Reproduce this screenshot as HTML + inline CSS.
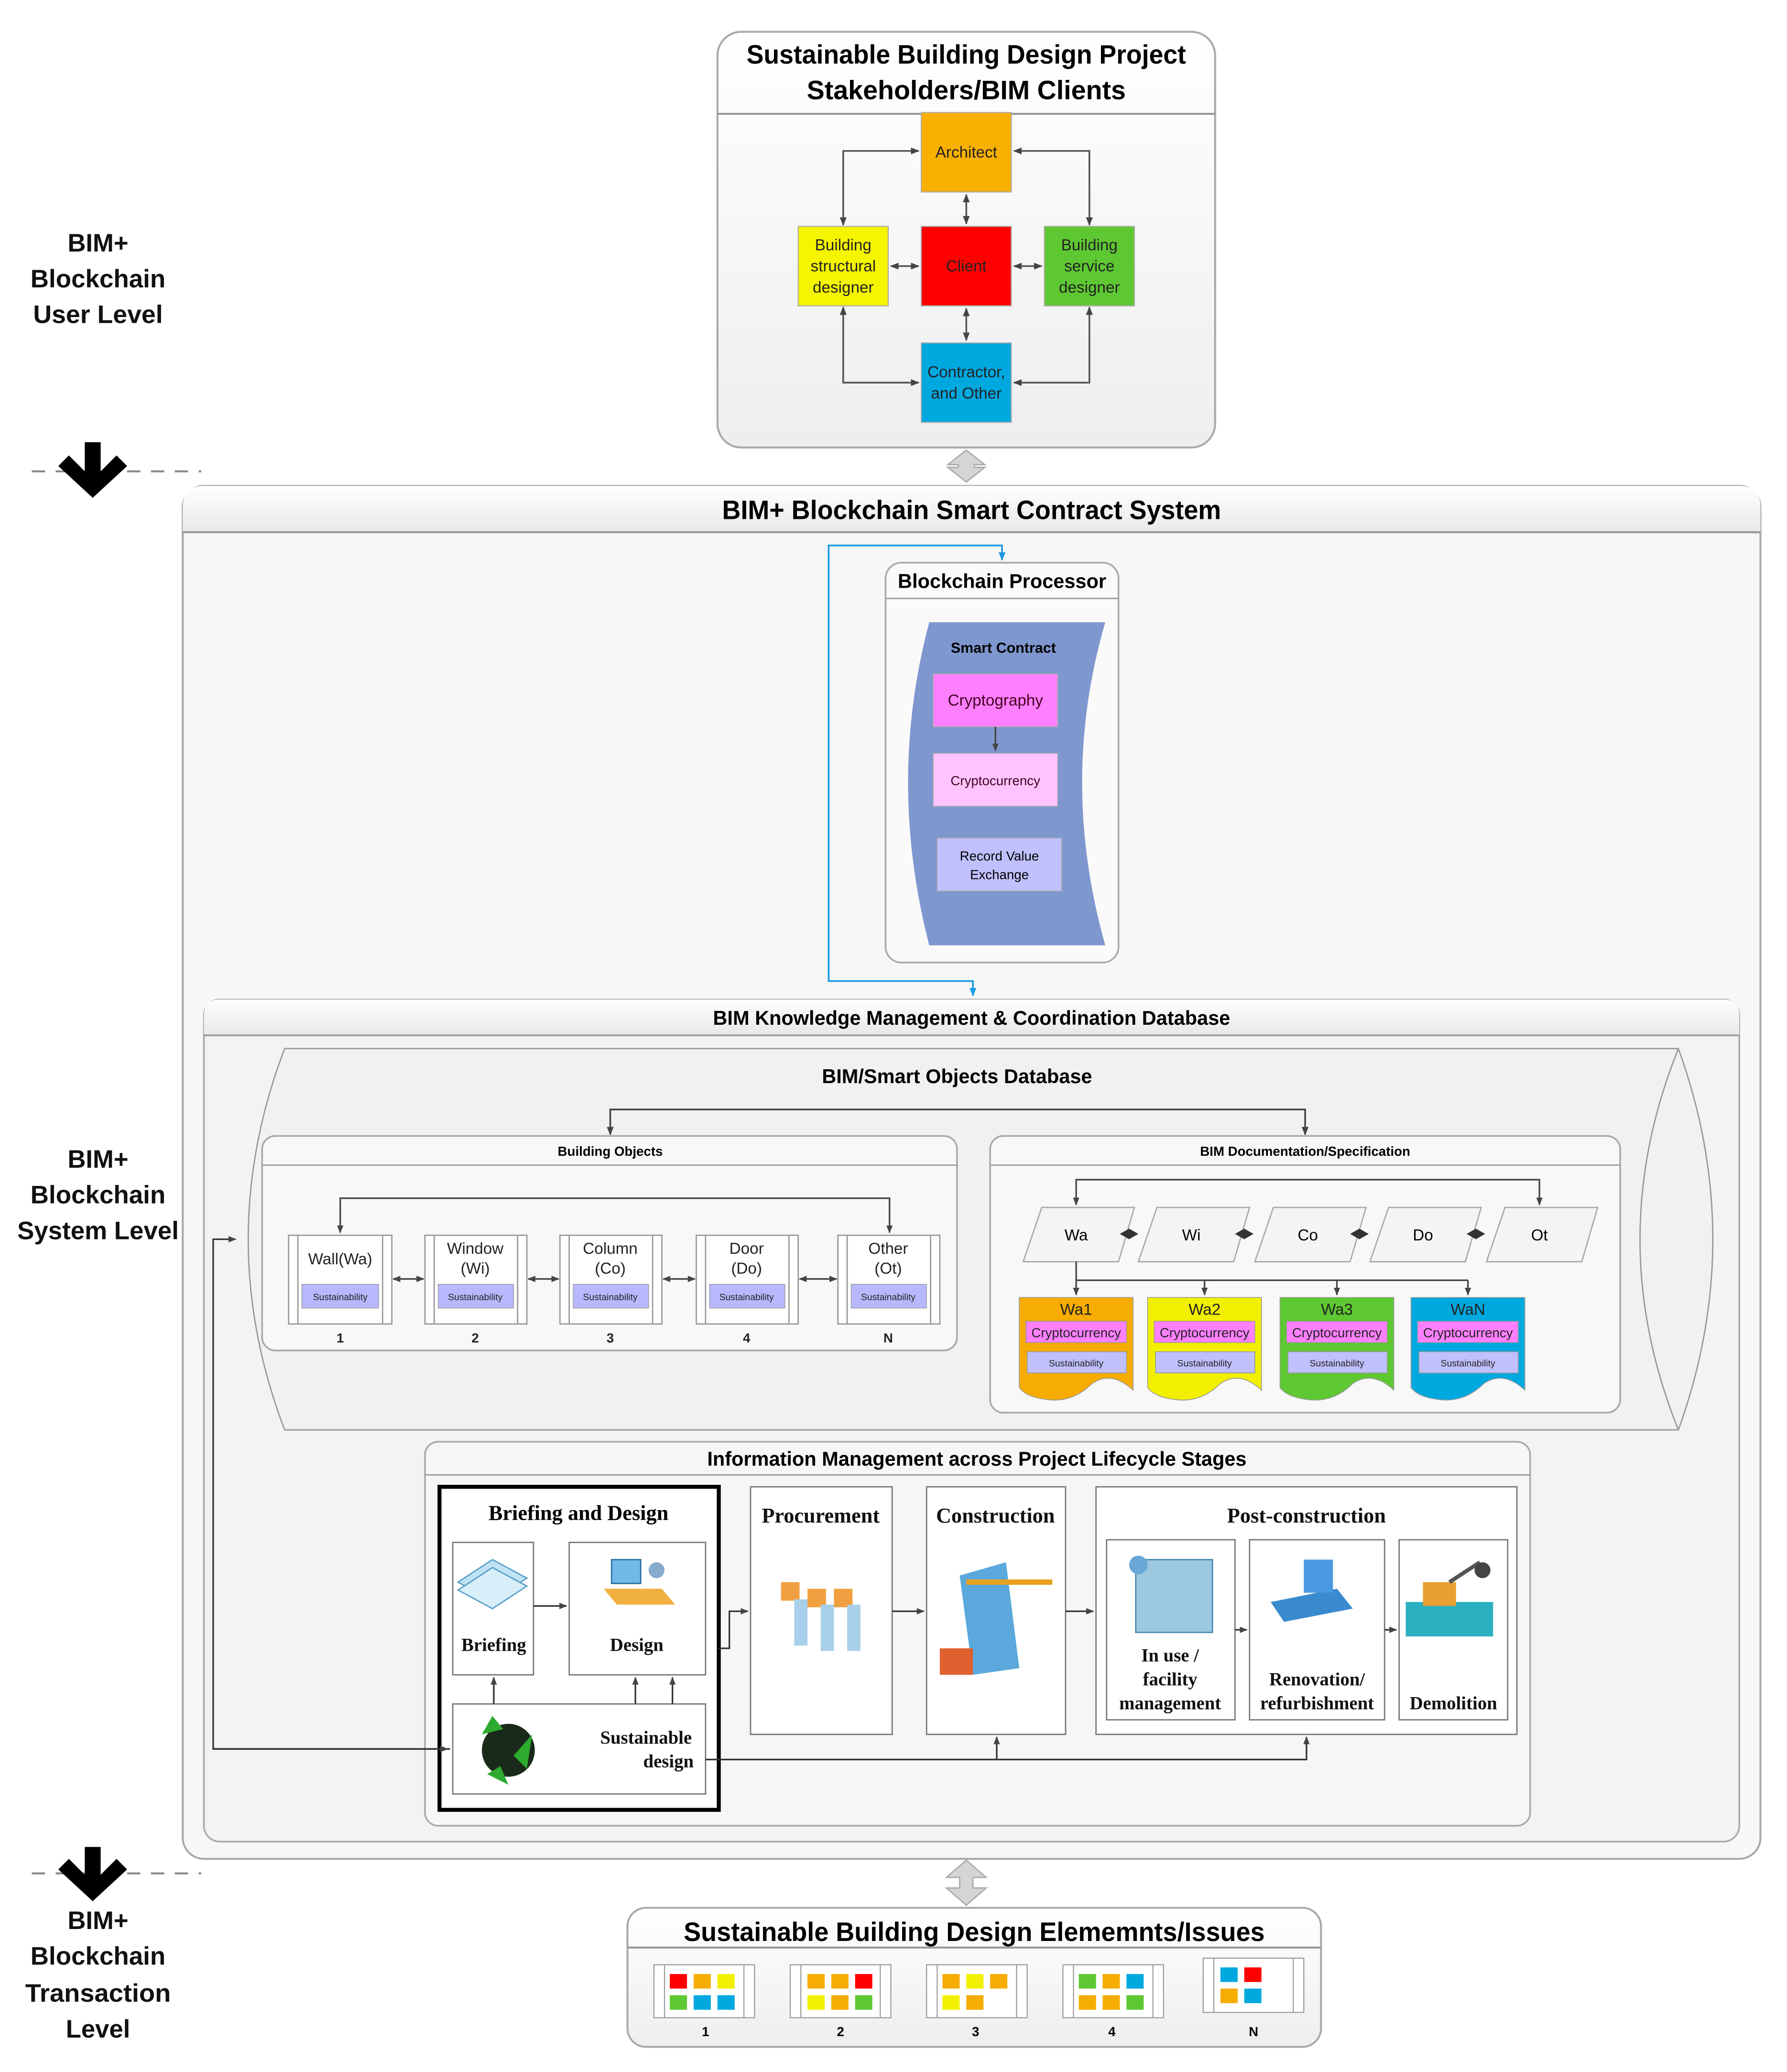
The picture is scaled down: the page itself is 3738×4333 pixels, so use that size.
<!DOCTYPE html>
<html><head><meta charset="utf-8"><style>
html,body{margin:0;padding:0;background:#fff}
svg{display:block}
text{font-family:"Liberation Sans",sans-serif}
.s{font-family:"Liberation Serif",serif;font-weight:bold}
</style></head><body>
<svg width="3738" height="4333" viewBox="0 0 1350 1565" xmlns="http://www.w3.org/2000/svg">
<defs>
<marker id="a" viewBox="0 0 10 10" refX="9" refY="5" markerWidth="5" markerHeight="5" orient="auto-start-reverse"><path d="M0,1 L10,5 L0,9z" fill="#444"/></marker>
<marker id="b" viewBox="0 0 10 10" refX="9" refY="5" markerWidth="5" markerHeight="5" orient="auto-start-reverse"><path d="M0,1 L10,5 L0,9z" fill="#1a9be0"/></marker>
<linearGradient id="g" x1="0" y1="0" x2="0" y2="1"><stop offset="0" stop-color="#fff"/><stop offset="1" stop-color="#eeeeee"/></linearGradient>
<linearGradient id="hd" x1="0" y1="0" x2="0" y2="1"><stop offset="0" stop-color="#ffffff"/><stop offset="1" stop-color="#e8e8e8"/></linearGradient>
</defs>

<!-- Left labels -->
<g font-size="19" font-weight="bold" text-anchor="middle" fill="#111">
<text x="74" y="190">BIM+</text><text x="74" y="217" textLength="102" lengthAdjust="spacingAndGlyphs">Blockchain</text><text x="74" y="244" textLength="98" lengthAdjust="spacingAndGlyphs">User Level</text>
<text x="74" y="882">BIM+</text><text x="74" y="909" textLength="102" lengthAdjust="spacingAndGlyphs">Blockchain</text><text x="74" y="936" textLength="122" lengthAdjust="spacingAndGlyphs">System Level</text>
<text x="74" y="1457">BIM+</text><text x="74" y="1484" textLength="102" lengthAdjust="spacingAndGlyphs">Blockchain</text><text x="74" y="1512" textLength="110" lengthAdjust="spacingAndGlyphs">Transaction</text><text x="74" y="1539">Level</text>
</g>
<g stroke="#888" stroke-width="1.5" stroke-dasharray="10,8"><line x1="24" y1="356" x2="152" y2="356"/><line x1="24" y1="1415" x2="152" y2="1415"/></g>
<path d="M64,334 H76 V356 L88,344 L96,352 L70,376 L44,352 L52,344 L64,356z" fill="#000"/>
<path d="M64,1395 H76 V1416 L88,1404 L96,1412 L70,1436 L44,1412 L52,1404 L64,1416z" fill="#000"/>

<!-- Top box -->
<rect x="542" y="24" width="376" height="314" rx="18" fill="url(#g)" stroke="#aaa" stroke-width="1.5"/>
<line x1="542" y1="86" x2="918" y2="86" stroke="#999" stroke-width="1.5"/>
<text x="730" y="48" font-size="20" font-weight="bold" text-anchor="middle" textLength="332" lengthAdjust="spacingAndGlyphs">Sustainable Building Design Project</text>
<text x="730" y="75" font-size="20" font-weight="bold" text-anchor="middle" textLength="241" lengthAdjust="spacingAndGlyphs">Stakeholders/BIM Clients</text>
<g stroke="#aaa" stroke-width="0.8">
<rect x="696" y="85" width="68" height="60" fill="#f9b000"/>
<rect x="696" y="171" width="68" height="60" fill="#ff0000"/>
<rect x="603" y="171" width="68" height="60" fill="#f5f500"/>
<rect x="789" y="171" width="68" height="60" fill="#5ec832"/>
<rect x="696" y="259" width="68" height="60" fill="#00a8e0"/>
</g>
<g font-size="12" text-anchor="middle" fill="#222">
<text x="730" y="119">Architect</text>
<text x="730" y="205">Client</text>
<text x="637" y="189">Building</text><text x="637" y="205">structural</text><text x="637" y="221">designer</text>
<text x="823" y="189">Building</text><text x="823" y="205">service</text><text x="823" y="221">designer</text>
<text x="730" y="285">Contractor,</text><text x="730" y="301">and Other</text>
</g>
<g fill="none" stroke="#555" stroke-width="1.3" marker-start="url(#a)" marker-end="url(#a)">
<path d="M694,114 H637 V170"/>
<path d="M766,114 H823 V170"/>
<path d="M637,232 V289 H694"/>
<path d="M823,232 V289 H766"/>
<path d="M730,147 V169"/><path d="M730,233 V257"/>
<path d="M673,201 H694"/><path d="M766,201 H787"/>
</g>
<!-- double arrows -->
<g fill="#d5d5d5" stroke="#aaa">
<path d="M730,340 L744,351 H736 V353 H744 L730,364 L716,353 H724 V351 H716z"/>
<path d="M730,1405 L745,1418 H735 V1426 H745 L730,1439 L715,1426 H725 V1418 H715z"/>
</g>

<!-- System box -->
<rect x="138" y="367" width="1192" height="1037" rx="16" fill="#f7f7f7" stroke="#aaa" stroke-width="1.5"/>
<path d="M138,402 V383 Q138,367 154,367 H1314 Q1330,367 1330,383 V402z" fill="url(#hd)"/>
<line x1="138" y1="402" x2="1330" y2="402" stroke="#999" stroke-width="1.5"/>
<text x="734" y="392" font-size="20" font-weight="bold" text-anchor="middle" textLength="377" lengthAdjust="spacingAndGlyphs">BIM+ Blockchain Smart Contract System</text>

<!-- Blockchain processor -->
<rect x="669" y="425" width="176" height="302" rx="12" fill="#fafafa" stroke="#aaa" stroke-width="1.3"/>
<line x1="669" y1="452" x2="845" y2="452" stroke="#999"/>
<text x="757" y="444" font-size="15" font-weight="bold" text-anchor="middle">Blockchain Processor</text>
<path d="M702,470 H835 Q800,590 835,714 H702 Q670,590 702,470z" fill="#7f97cf"/>
<text x="758" y="493" font-size="11" font-weight="bold" text-anchor="middle">Smart Contract</text>
<rect x="705" y="509" width="94" height="40" fill="#ff80ff" stroke="#aaa" stroke-width="0.6"/>
<text x="752" y="533" font-size="12" text-anchor="middle" fill="#402">Cryptography</text>
<rect x="705" y="569" width="94" height="40" fill="#ffc4ff" stroke="#aaa" stroke-width="0.6"/>
<text x="752" y="593" font-size="10" text-anchor="middle" fill="#402">Cryptocurrency</text>
<rect x="708" y="633" width="94" height="40" fill="#c0c0ff" stroke="#aaa" stroke-width="0.6"/>
<text x="755" y="650" font-size="10" text-anchor="middle">Record Value</text><text x="755" y="664" font-size="10" text-anchor="middle">Exchange</text>
<line x1="752" y1="549" x2="752" y2="567" stroke="#444" stroke-width="1.2" marker-end="url(#a)"/>
<path d="M757,423 V412 H626 V741 H735 V752" fill="none" stroke="#1a9be0" stroke-width="1.3" marker-start="url(#b)" marker-end="url(#b)"/>

<!-- BIM KM -->
<rect x="154" y="755" width="1160" height="636" rx="12" fill="#f3f3f3" stroke="#aaa" stroke-width="1.3"/>
<path d="M154,782 V767 Q154,755 166,755 H1302 Q1314,755 1314,767 V782z" fill="url(#hd)"/>
<line x1="154" y1="782" x2="1314" y2="782" stroke="#999" stroke-width="1.3"/>
<text x="734" y="774" font-size="15" font-weight="bold" text-anchor="middle">BIM Knowledge Management &amp; Coordination Database</text>

<!-- cylinder -->
<path d="M215,792 H1268 Q1320,936 1268,1080 H215 Q160,936 215,792z" fill="#f1f1f1" stroke="#999" stroke-width="1"/>
<path d="M1268,792 Q1210,936 1268,1080" fill="none" stroke="#999"/>
<text x="723" y="818" font-size="15" font-weight="bold" text-anchor="middle">BIM/Smart Objects Database</text>
<path d="M461,857 V838 H986 V857" fill="none" stroke="#444" stroke-width="1.3" marker-start="url(#a)" marker-end="url(#a)"/>

<!-- Building objects -->
<rect x="198" y="858" width="525" height="162" rx="10" fill="#f8f8f8" stroke="#aaa" stroke-width="1.3"/>
<line x1="198" y1="880" x2="723" y2="880" stroke="#999"/>
<text x="461" y="873" font-size="10" font-weight="bold" text-anchor="middle">Building Objects</text>
<path d="M257,931 V905 H672 V931" fill="none" stroke="#444" stroke-width="1.2" marker-start="url(#a)" marker-end="url(#a)"/>
<g font-size="12" text-anchor="middle" fill="#222">
<g transform="translate(218,933)"><rect width="78" height="67" fill="#fff" stroke="#999"/><line x1="7" y1="0" x2="7" y2="67" stroke="#999"/><line x1="71" y1="0" x2="71" y2="67" stroke="#999"/><rect x="10" y="37" width="58" height="18" fill="#b8b8ff" stroke="#999" stroke-width="0.5"/><text x="39" y="22">Wall(Wa)</text><text x="39" y="49" font-size="7">Sustainability</text><text x="39" y="81" font-size="10" font-weight="bold">1</text></g>
<g transform="translate(321,933)"><rect width="77" height="67" fill="#fff" stroke="#999"/><line x1="7" y1="0" x2="7" y2="67" stroke="#999"/><line x1="70" y1="0" x2="70" y2="67" stroke="#999"/><rect x="10" y="37" width="57" height="18" fill="#b8b8ff" stroke="#999" stroke-width="0.5"/><text x="38" y="14">Window</text><text x="38" y="29">(Wi)</text><text x="38" y="49" font-size="7">Sustainability</text><text x="38" y="81" font-size="10" font-weight="bold">2</text></g>
<g transform="translate(423,933)"><rect width="77" height="67" fill="#fff" stroke="#999"/><line x1="7" y1="0" x2="7" y2="67" stroke="#999"/><line x1="70" y1="0" x2="70" y2="67" stroke="#999"/><rect x="10" y="37" width="57" height="18" fill="#b8b8ff" stroke="#999" stroke-width="0.5"/><text x="38" y="14">Column</text><text x="38" y="29">(Co)</text><text x="38" y="49" font-size="7">Sustainability</text><text x="38" y="81" font-size="10" font-weight="bold">3</text></g>
<g transform="translate(526,933)"><rect width="77" height="67" fill="#fff" stroke="#999"/><line x1="7" y1="0" x2="7" y2="67" stroke="#999"/><line x1="70" y1="0" x2="70" y2="67" stroke="#999"/><rect x="10" y="37" width="57" height="18" fill="#b8b8ff" stroke="#999" stroke-width="0.5"/><text x="38" y="14">Door</text><text x="38" y="29">(Do)</text><text x="38" y="49" font-size="7">Sustainability</text><text x="38" y="81" font-size="10" font-weight="bold">4</text></g>
<g transform="translate(633,933)"><rect width="77" height="67" fill="#fff" stroke="#999"/><line x1="7" y1="0" x2="7" y2="67" stroke="#999"/><line x1="70" y1="0" x2="70" y2="67" stroke="#999"/><rect x="10" y="37" width="57" height="18" fill="#b8b8ff" stroke="#999" stroke-width="0.5"/><text x="38" y="14">Other</text><text x="38" y="29">(Ot)</text><text x="38" y="49" font-size="7">Sustainability</text><text x="38" y="81" font-size="10" font-weight="bold">N</text></g>
</g>
<g fill="none" stroke="#444" stroke-width="1.2" marker-start="url(#a)" marker-end="url(#a)">
<path d="M297,966 H320"/><path d="M399,966 H422"/><path d="M501,966 H525"/><path d="M604,966 H632"/>
</g>

<!-- BIM documentation -->
<rect x="748" y="858" width="476" height="209" rx="10" fill="#f8f8f8" stroke="#aaa" stroke-width="1.3"/>
<line x1="748" y1="880" x2="1224" y2="880" stroke="#999"/>
<text x="986" y="873" font-size="10" font-weight="bold" text-anchor="middle">BIM Documentation/Specification</text>
<path d="M813,910 V891 H1163 V910" fill="none" stroke="#444" stroke-width="1.2" marker-start="url(#a)" marker-end="url(#a)"/>
<g fill="#f4f4f4" stroke="#aaa" stroke-width="1">
<path d="M787,912 H857 L845,953 H773z"/><path d="M874,912 H944 L932,953 H860z"/><path d="M962,912 H1032 L1020,953 H948z"/><path d="M1049,912 H1119 L1107,953 H1035z"/><path d="M1137,912 H1207 L1195,953 H1123z"/>
</g>
<g font-size="12" text-anchor="middle"><text x="813" y="937">Wa</text><text x="900" y="937">Wi</text><text x="988" y="937">Co</text><text x="1075" y="937">Do</text><text x="1163" y="937">Ot</text></g>
<g fill="#333"><path d="M846,932 L853,928 L860,932 L853,936z"/><path d="M933,932 L940,928 L947,932 L940,936z"/><path d="M1020,932 L1027,928 L1034,932 L1027,936z"/><path d="M1108,932 L1115,928 L1122,932 L1115,936z"/></g>
<g fill="none" stroke="#444" stroke-width="1.2">
<path d="M813,953 V978" marker-end="url(#a)"/><path d="M813,967 H1109"/><path d="M910,967 V978" marker-end="url(#a)"/><path d="M1010,967 V978" marker-end="url(#a)"/><path d="M1109,967 V978" marker-end="url(#a)"/>
</g>
<g stroke="#999" stroke-width="0.6">
<path d="M770,980 H856 V1050 Q840,1035 825,1045 Q810,1060 790,1057 Q775,1055 770,1048z" fill="#f6ac00"/>
<path d="M867,980 H953 V1050 Q937,1035 922,1045 Q907,1060 887,1057 Q872,1055 867,1048z" fill="#f2f000"/>
<path d="M967,980 H1053 V1050 Q1037,1035 1022,1045 Q1007,1060 987,1057 Q972,1055 967,1048z" fill="#5ec832"/>
<path d="M1066,980 H1152 V1050 Q1136,1035 1121,1045 Q1106,1060 1086,1057 Q1071,1055 1066,1048z" fill="#00a8e0"/>
<g fill="#ff80ff"><rect x="775" y="998" width="76" height="16"/><rect x="872" y="998" width="76" height="16"/><rect x="972" y="998" width="76" height="16"/><rect x="1071" y="998" width="76" height="16"/></g>
<g fill="#c0c0ff"><rect x="776" y="1021" width="75" height="16"/><rect x="873" y="1021" width="75" height="16"/><rect x="973" y="1021" width="75" height="16"/><rect x="1072" y="1021" width="75" height="16"/></g>
</g>
<g text-anchor="middle" fill="#222">
<g font-size="12"><text x="813" y="993">Wa1</text><text x="910" y="993">Wa2</text><text x="1010" y="993">Wa3</text><text x="1109" y="993">WaN</text></g>
<g font-size="10"><text x="813" y="1010">Cryptocurrency</text><text x="910" y="1010">Cryptocurrency</text><text x="1010" y="1010">Cryptocurrency</text><text x="1109" y="1010">Cryptocurrency</text></g>
<g font-size="7"><text x="813" y="1032">Sustainability</text><text x="910" y="1032">Sustainability</text><text x="1010" y="1032">Sustainability</text><text x="1109" y="1032">Sustainability</text></g>
</g>

<!-- Info management -->
<rect x="321" y="1089" width="835" height="290" rx="10" fill="#f6f6f6" stroke="#aaa" stroke-width="1.3"/>
<line x1="321" y1="1114" x2="1156" y2="1114" stroke="#999"/>
<text x="738" y="1107" font-size="15" font-weight="bold" text-anchor="middle">Information Management across Project Lifecycle Stages</text>
<rect x="332" y="1123" width="211" height="244" fill="#fff" stroke="#000" stroke-width="3"/>
<text class="s" x="437" y="1148" font-size="16" text-anchor="middle">Briefing and Design</text>
<g fill="#fff" stroke="#777" stroke-width="1">
<rect x="342" y="1165" width="61" height="100"/><rect x="430" y="1165" width="103" height="100"/><rect x="342" y="1287" width="191" height="68"/>
<rect x="567" y="1123" width="107" height="187"/><rect x="700" y="1123" width="105" height="187"/><rect x="828" y="1123" width="318" height="187"/>
<rect x="836" y="1163" width="97" height="136"/><rect x="944" y="1163" width="102" height="136"/><rect x="1057" y="1163" width="82" height="136"/>
</g>
<g class="s" font-size="14" text-anchor="middle" fill="#111">
<text class="s" x="373" y="1247">Briefing</text><text class="s" x="481" y="1247">Design</text>
<text class="s" x="488" y="1317">Sustainable</text><text class="s" x="505" y="1335">design</text>
<text class="s" x="620" y="1150" font-size="16">Procurement</text><text class="s" x="752" y="1150" font-size="16">Construction</text><text class="s" x="987" y="1150" font-size="16">Post-construction</text>
<text class="s" x="884" y="1255">In use /</text><text class="s" x="884" y="1273">facility</text><text class="s" x="884" y="1291">management</text>
<text class="s" x="995" y="1273">Renovation/</text><text class="s" x="995" y="1291">refurbishment</text>
<text class="s" x="1098" y="1291">Demolition</text>
</g>
<!-- icons -->
<g>
<path d="M346,1195 L372,1178 L398,1192 L372,1209z" fill="#bfe3f5" stroke="#5aa0c8"/><path d="M346,1201 L372,1184 L398,1198 L372,1215z" fill="#d8eef9" stroke="#5aa0c8"/>
<rect x="462" y="1178" width="22" height="18" fill="#6fb8e8" stroke="#2a6fa0"/><path d="M456,1200 L500,1200 L510,1212 L466,1212z" fill="#f0b040"/><circle cx="496" cy="1186" r="6" fill="#8ac"/>
<circle cx="384" cy="1322" r="20" fill="#1a2a1a"/><path d="M364,1310 L372,1296 L380,1306z M402,1310 L398,1336 L388,1326z M368,1340 L384,1348 L378,1334z" fill="#2eaa2e"/>
<g fill="#f0a040"><rect x="590" y="1195" width="14" height="14"/><rect x="610" y="1200" width="14" height="14"/><rect x="630" y="1200" width="14" height="14"/></g>
<g fill="#a8d0ea"><rect x="600" y="1208" width="10" height="35"/><rect x="620" y="1212" width="10" height="35"/><rect x="640" y="1212" width="10" height="35"/></g>
<path d="M725,1190 L760,1180 L770,1260 L735,1265z" fill="#5aa8dc"/><path d="M730,1195 L795,1195" stroke="#e8a020" stroke-width="4"/><rect x="710" y="1245" width="25" height="20" fill="#e06030"/>
<rect x="858" y="1178" width="58" height="55" fill="#9cc8e0" stroke="#4a88b0"/><circle cx="860" cy="1182" r="7" fill="#6aa8d8"/>
<path d="M960,1210 L1010,1200 L1022,1215 L970,1225z" fill="#3a8ad0"/><rect x="985" y="1178" width="22" height="25" fill="#4a98e0"/>
<rect x="1062" y="1210" width="66" height="26" fill="#2ab0c0"/><rect x="1075" y="1195" width="25" height="18" fill="#e8a030"/><path d="M1095,1195 L1118,1180" stroke="#555" stroke-width="3"/><circle cx="1120" cy="1186" r="6" fill="#444"/>
</g>
<g fill="none" stroke="#333" stroke-width="1.2">
<path d="M403,1213 H428" marker-end="url(#a)"/>
<path d="M373,1287 V1267" marker-end="url(#a)"/><path d="M480,1287 V1267" marker-end="url(#a)"/><path d="M508,1287 V1267" marker-end="url(#a)"/>
<path d="M543,1245 H551 V1217 H565" marker-end="url(#a)"/>
<path d="M674,1217 H698" marker-end="url(#a)"/><path d="M805,1217 H826" marker-end="url(#a)"/>
<path d="M933,1231 H942" marker-end="url(#a)"/><path d="M1046,1231 H1055" marker-end="url(#a)"/>
<path d="M533,1329 H987 V1312" marker-end="url(#a)"/><path d="M753,1329 V1312" marker-end="url(#a)"/>
<path d="M340,1321 H161 V936 H178" marker-end="url(#a)"/>
<path d="M161,1321 H338" marker-end="url(#a)"/>
</g>

<!-- Bottom box -->
<rect x="474" y="1441" width="524" height="105" rx="14" fill="url(#g)" stroke="#aaa" stroke-width="1.5"/>
<line x1="474" y1="1471" x2="998" y2="1471" stroke="#999" stroke-width="1.5"/>
<text x="736" y="1466" font-size="20" font-weight="bold" text-anchor="middle" textLength="439" lengthAdjust="spacingAndGlyphs">Sustainable Building Design Elememnts/Issues</text>
<g stroke="#999" stroke-width="0.8">
<g transform="translate(494,1484)"><rect width="76" height="40" fill="#fff"/><line x1="8" y1="0" x2="8" y2="40"/><line x1="68" y1="0" x2="68" y2="40"/></g>
<g transform="translate(597,1484)"><rect width="76" height="40" fill="#fff"/><line x1="8" y1="0" x2="8" y2="40"/><line x1="68" y1="0" x2="68" y2="40"/></g>
<g transform="translate(700,1484)"><rect width="76" height="40" fill="#fff"/><line x1="8" y1="0" x2="8" y2="40"/><line x1="68" y1="0" x2="68" y2="40"/></g>
<g transform="translate(803,1484)"><rect width="76" height="40" fill="#fff"/><line x1="8" y1="0" x2="8" y2="40"/><line x1="68" y1="0" x2="68" y2="40"/></g>
<g transform="translate(909,1479)"><rect width="76" height="41" fill="#fff"/><line x1="8" y1="0" x2="8" y2="41"/><line x1="68" y1="0" x2="68" y2="41"/></g>
</g>
<g>
<rect x="506" y="1491" width="13" height="11" fill="#f00"/><rect x="524" y="1491" width="13" height="11" fill="#f6ac00"/><rect x="542" y="1491" width="13" height="11" fill="#f2f000"/>
<rect x="506" y="1507" width="13" height="11" fill="#5ec832"/><rect x="524" y="1507" width="13" height="11" fill="#00a8e0"/><rect x="542" y="1507" width="13" height="11" fill="#00a8e0"/>
<rect x="610" y="1491" width="13" height="11" fill="#f6ac00"/><rect x="628" y="1491" width="13" height="11" fill="#f6ac00"/><rect x="646" y="1491" width="13" height="11" fill="#f00"/>
<rect x="610" y="1507" width="13" height="11" fill="#f2f000"/><rect x="628" y="1507" width="13" height="11" fill="#f6ac00"/><rect x="646" y="1507" width="13" height="11" fill="#5ec832"/>
<rect x="712" y="1491" width="13" height="11" fill="#f6ac00"/><rect x="730" y="1491" width="13" height="11" fill="#f2f000"/><rect x="748" y="1491" width="13" height="11" fill="#f6ac00"/>
<rect x="712" y="1507" width="13" height="11" fill="#f2f000"/><rect x="730" y="1507" width="13" height="11" fill="#f6ac00"/>
<rect x="815" y="1491" width="13" height="11" fill="#5ec832"/><rect x="833" y="1491" width="13" height="11" fill="#f6ac00"/><rect x="851" y="1491" width="13" height="11" fill="#00a8e0"/>
<rect x="815" y="1507" width="13" height="11" fill="#f6ac00"/><rect x="833" y="1507" width="13" height="11" fill="#f6ac00"/><rect x="851" y="1507" width="13" height="11" fill="#5ec832"/>
<rect x="922" y="1486" width="13" height="11" fill="#00a8e0"/><rect x="940" y="1486" width="13" height="11" fill="#f00"/>
<rect x="922" y="1502" width="13" height="11" fill="#f6ac00"/><rect x="940" y="1502" width="13" height="11" fill="#00a8e0"/>
</g>
<g font-size="10" font-weight="bold" text-anchor="middle"><text x="533" y="1538">1</text><text x="635" y="1538">2</text><text x="737" y="1538">3</text><text x="840" y="1538">4</text><text x="947" y="1538">N</text></g>
</svg>
</body></html>
